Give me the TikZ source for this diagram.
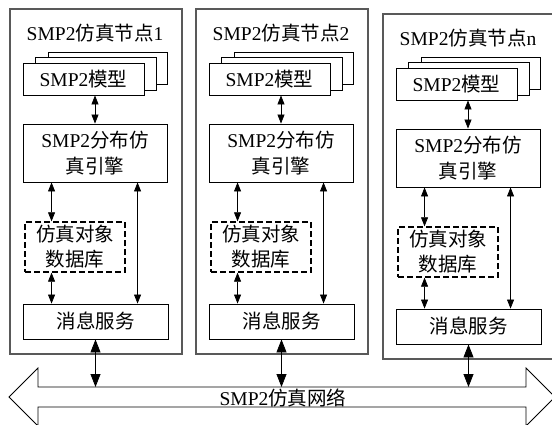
\documentclass[tikz,border=0pt]{standalone}
\usepackage{fontspec}
\setmainfont{Liberation Serif}
\newfontfamily\cjkfont{Noto Sans CJK SC}
\newcommand{\zh}[1]{{\cjkfont #1}}
\usetikzlibrary{arrows.meta}

\tikzset{
  nodeframe/.style={draw=black!65, line width=1.1pt, inner sep=0pt},
  box/.style={draw=black, line width=0.9pt, fill=white, inner sep=0pt, align=center,
              font=\fontsize{19.5}{25}\selectfont},
  dbbox/.style={draw=black, line width=1.4pt, dash pattern=on 6pt off 3pt, inner sep=0pt,
                align=center, font=\fontsize{19.5}{25}\selectfont},
  txt/.style={inner sep=0pt, font=\fontsize{19.5}{25}\selectfont},
  biarrow/.style={line width=0.8pt, {Triangle[width=7pt,length=9pt]}-{Triangle[width=7pt,length=9pt]}},
  busarrow/.style={line width=0.8pt, {Triangle[width=10pt,length=13pt]}-{Triangle[width=10pt,length=13pt]}},
  busline/.style={draw=black, line width=0.8pt}
}

% One simulation node: #1 name prefix, #2 #3 offset, #4 node index
\newcommand{\simnode}[4]{%
  \begin{scope}[shift={(#2,#3)}]
    \node[nodeframe, minimum width=172, minimum height=345] (#1frame) at (96,181.5) {};
    \node[txt] (#1title) at (95,33) {SMP2\zh{仿真节点}#4};
    % stacked model boxes
    \node[box, minimum width=119, minimum height=32] (#1mback) at (107.5,68) {};
    \node[box, minimum width=121, minimum height=33] (#1mmid) at (95.5,73.5) {};
    \node[box, minimum width=121, minimum height=32] (#1mfront) at (83.5,79) {SMP2\zh{模型}};
    % engine, database, messaging
    \node[box, minimum width=144, minimum height=58] (#1eng) at (95,153)
      {SMP2\zh{分布仿}\\[1pt]\zh{真引擎}};
    \node[dbbox, minimum width=100, minimum height=50] (#1db) at (75,247)
      {\zh{仿真对象}\\\zh{数据库}};
    \node[box, minimum width=145, minimum height=35] (#1msg) at (95.5,321.5) {\zh{消息服务}};
    \coordinate (#1l) at ([xshift=29pt]#1eng.south west);
    \coordinate (#1r) at ([xshift=115pt]#1eng.south west);
    % connectors
    \draw[biarrow] (#1mfront.south -| #1eng.north) -- (#1eng.north);
    \draw[biarrow] (#1l) -- (#1l |- #1db.north);
    \draw[biarrow] (#1db.south -| #1l) -- (#1msg.north -| #1l);
    \draw[biarrow] (#1r) -- (#1r |- #1msg.north);
    \draw[busarrow] (#1msg.south) -- (#1msg.south |- nettop);
  \end{scope}}

\begin{document}
\begin{tikzpicture}[x=1pt, y=-1pt]
  \clip (0,0) rectangle (552,425);
  \fill[white] (0,0) rectangle (552,425);

  % simulation network bus (double block arrow)
  \coordinate (nettop) at (283,387);
  \draw[busline] (9,397) -- (38,368) -- (38,387) -- (526,387) -- (526,368) -- (555,397)
    -- (526,426) -- (526,407) -- (38,407) -- (38,426) -- cycle;
  \node[txt] (netlabel) at (283,398) {SMP2\zh{仿真网络}};

  \simnode{a}{0}{0}{1}
  \simnode{b}{186}{0}{2}
  \simnode{c}{373}{5}{n}
\end{tikzpicture}
\end{document}
